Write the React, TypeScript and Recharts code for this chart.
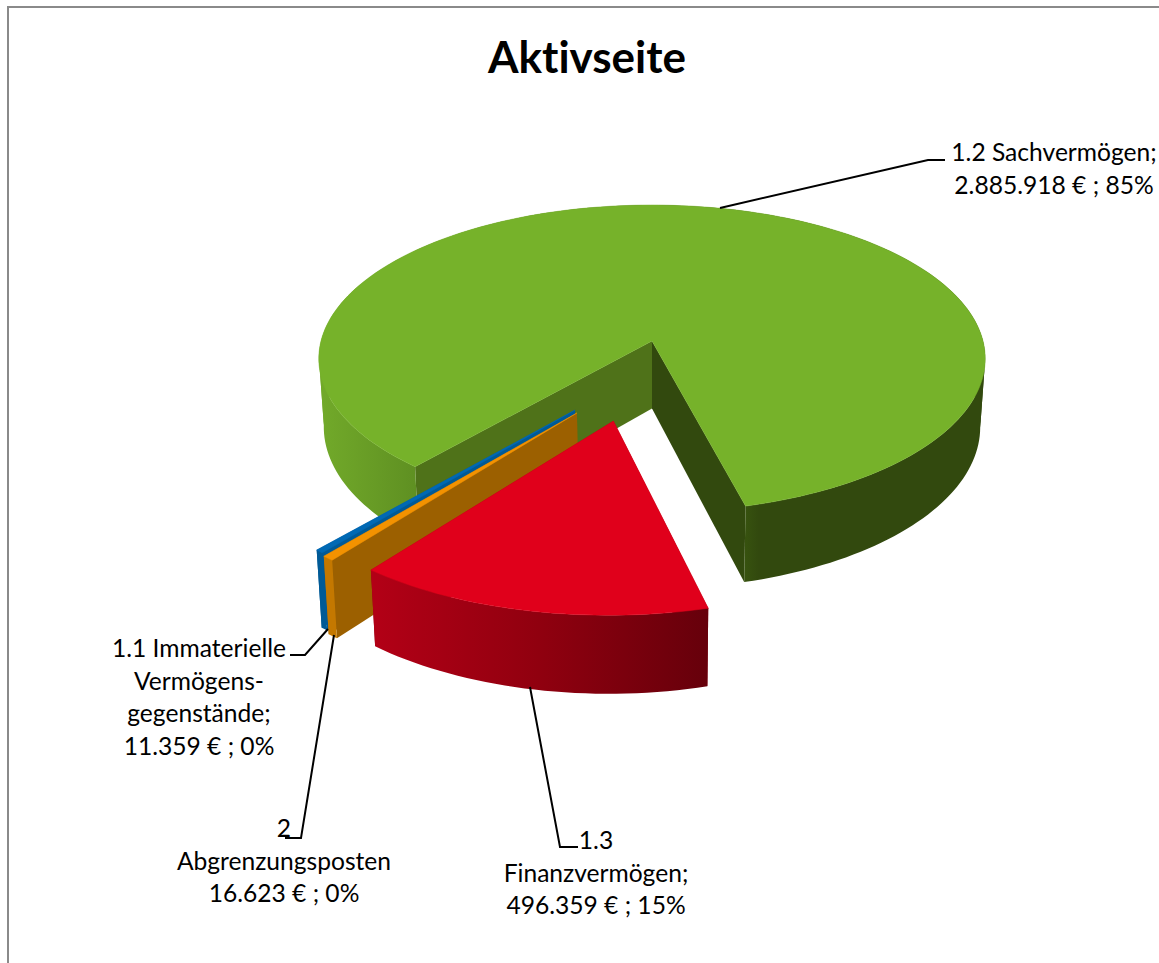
import { PieChart, Pie } from 'recharts';

const categories = ['1.1 Immaterielle Vermögensgegenstände', '1.2 Sachvermögen', '1.3 Finanzvermögen', '2 Abgrenzungsposten'];
const amounts = [11359, 2885918, 496359, 16623];
const labelTexts = [
    ['1.1 Immaterielle', 'Vermögens-', 'gegenstände;', '11.359 € ; 0%'],
    ['1.2 Sachvermögen;', '2.885.918 € ; 85%'],
    ['1.3', 'Finanzvermögen;', '496.359 € ; 15%'],
    ['2', 'Abgrenzungsposten', '16.623 € ; 0%'],
];

const pieData = categories.map((name, i) => ({ name, value: amounts[i], labelLines: labelTexts[i] }));

// paint order, far slice first
const layerOrder = [1, 0, 3, 2];

const WIDTH = 1159;
const HEIGHT = 963;
const FONT = 'Lato, "Noto Sans", sans-serif';
const FIRST_ANGLE = 219.6; // clockwise from north
const TILT = 0.458;
const PERSPECTIVE = 0.115;
const NARROW = 0.985;

// look of each slice, same order as categories
const depths = [67, 67.5, 65, 67];
const explode = [
    { x: -0.221, v: 0.433 },
    { x: 0, v: 0 },
    { x: -0.11, v: 0.4975 },
    { x: -0.215, v: 0.45 },
];
const topColors = ['#0069b4', '#76b22a', '#e0001b', '#f39200'];
const startFaceColors = ['#005a96', '#4f7219', '#8a0010', '#9c6000'];
const endFaceColors = ['#005a96', '#32490e', '#8a0010', '#9c6000'];
const wallStops: [number, string][][] = [
    [[0, '#005a96'], [1, '#005a96']],
    [[0, '#72aa2a'], [0.145, '#5f9022'], [0.64, '#37520f'], [0.66, '#32490e'], [1, '#32490e']],
    [[0, '#b30016'], [0.5, '#90000f'], [1, '#66000b']],
    [[0, '#c47800'], [1, '#c47800']],
];

// leader lines and text anchors of the data labels
const labelLayout = [
    { leader: '328,629 305,655 290,655', x: 199, y: 657 },
    { leader: '720,208 928,160 945,160', x: 1054, y: 161 },
    { leader: '530,687 560,847 578,847', x: 596, y: 849 },
    { leader: '334,635 301,838 285,838', x: 284, y: 837 },
];
const LINE_HEIGHT = 32.5;

function Slice3D(props: any) {
    const { cx, cy, outerRadius: R, startAngle, endAngle, index } = props;
    const off = explode[index];
    const Ry = R * TILT;

    const point = (angle: number | null, bottom: boolean) => {
        const rad = angle === null ? 0 : (angle * Math.PI) / 180;
        const gx = off.x + (angle === null ? 0 : Math.cos(rad));
        const gv = off.v + (angle === null ? 0 : -Math.sin(rad));
        const s = 1 / (1 - PERSPECTIVE * gv);
        let x = cx + R * gx * s;
        let y = cy + Ry * gv * s;
        if (bottom) {
            x = cx + (x - cx) * NARROW;
            y += depths[index] * s;
        }
        return `${x.toFixed(2)},${y.toFixed(2)}`;
    };

    const steps = Math.max(2, Math.ceil(Math.abs(endAngle - startAngle) / 1.5));
    const angles = Array.from({ length: steps + 1 }, (_, i) => startAngle + ((endAngle - startAngle) * i) / steps);
    const rimTop = angles.map((a) => point(a, false));
    const rimBottom = angles.map((a) => point(a, true));
    const apexTop = point(null, false);
    const apexBottom = point(null, true);
    const gradId = `wall-${index}`;
    const xOf = (p: string) => Number(p.split(',')[0]);
    const xs = [...rimTop, ...rimBottom].map(xOf);

    // cut the wall where the rim turns back, one outline would cancel itself there
    const wallParts: number[][] = [];
    let part = [0];
    let heading = 0;
    for (let i = 1; i <= steps; i++) {
        const dir = Math.sign(xOf(rimTop[i]) - xOf(rimTop[i - 1]));
        if (dir !== 0 && heading !== 0 && dir !== heading) {
            wallParts.push(part);
            part = [i - 1];
        }
        if (dir !== 0) heading = dir;
        part.push(i);
    }
    wallParts.push(part);

    return (
        <g>
            <defs>
                <linearGradient id={gradId} gradientUnits="userSpaceOnUse" x1={Math.min(...xs)} x2={Math.max(...xs)} y1={0} y2={0}>
                    {wallStops[index].map(([o, c]) => (
                        <stop key={o} offset={o} stopColor={c} />
                    ))}
                </linearGradient>
            </defs>
            <polygon
                points={[apexTop, rimTop[steps], rimBottom[steps], apexBottom].join(' ')}
                fill={endFaceColors[index]}
            />
            <polygon
                points={[apexTop, rimTop[0], rimBottom[0], apexBottom].join(' ')}
                fill={startFaceColors[index]}
            />
            {wallParts.map((ids) => (
                <polygon
                    key={ids[0]}
                    points={[...ids.map((i) => rimTop[i]), ...[...ids].reverse().map((i) => rimBottom[i])].join(' ')}
                    fill={`url(#${gradId})`}
                />
            ))}
            <polygon points={[apexTop, ...rimTop].join(' ')} fill={topColors[index]} stroke={topColors[index]} strokeWidth={0.5} />
        </g>
    );
}

function DataLabel(props: any) {
    const { index, labelLines } = props;
    const layout = labelLayout[index];
    return (
        <g>
            <polyline points={layout.leader} fill="none" stroke="#000000" strokeWidth={2} />
            <text textAnchor="middle" fontFamily={FONT} fontSize={24.6} fill="#000000" style={{ fontVariantLigatures: 'none' }}>
                {labelLines.map((line: string, i: number) => (
                    <tspan key={line} x={layout.x} y={layout.y + i * LINE_HEIGHT}>
                        {line}
                    </tspan>
                ))}
            </text>
        </g>
    );
}

export default function App() {
    return (
        <div style={{ position: 'absolute', left: 0, top: 0, width: WIDTH, height: HEIGHT, overflow: 'hidden', background: '#ffffff' }}>
            <div
                style={{
                    position: 'absolute',
                    left: 7,
                    top: 6,
                    width: WIDTH,
                    height: HEIGHT,
                    borderTop: '2px solid #8a8a8a',
                    borderLeft: '2px solid #8a8a8a',
                }}
            />
            <div style={{ position: 'absolute', left: 0, top: 0 }}>
                <PieChart width={WIDTH} height={HEIGHT} margin={{ top: 0, right: 0, bottom: 0, left: 0 }}>
                    <text x={587} y={73} textAnchor="middle" fontFamily={FONT} fontWeight={700} fontSize={44} fill="#000000" style={{ fontVariantLigatures: 'none' }}>
                        Aktivseite
                    </text>
                    {layerOrder.map((layer, n) => (
                        <Pie
                            key={layer}
                            data={pieData}
                            dataKey="value"
                            nameKey="name"
                            cx={652}
                            cy={341}
                            innerRadius={0}
                            outerRadius={331}
                            startAngle={90 - FIRST_ANGLE}
                            endAngle={90 - FIRST_ANGLE - 360}
                            stroke="none"
                            isAnimationActive={false}
                            shape={(p: any) => {
                                const idx = categories.indexOf(p.name);
                                return idx === layer ? <Slice3D {...p} index={idx} /> : <g />;
                            }}
                            labelLine={false}
                            label={n === layerOrder.length - 1 ? (p: any) => <DataLabel {...p} /> : false}
                        />
                    ))}
                </PieChart>
            </div>
        </div>
    );
}
